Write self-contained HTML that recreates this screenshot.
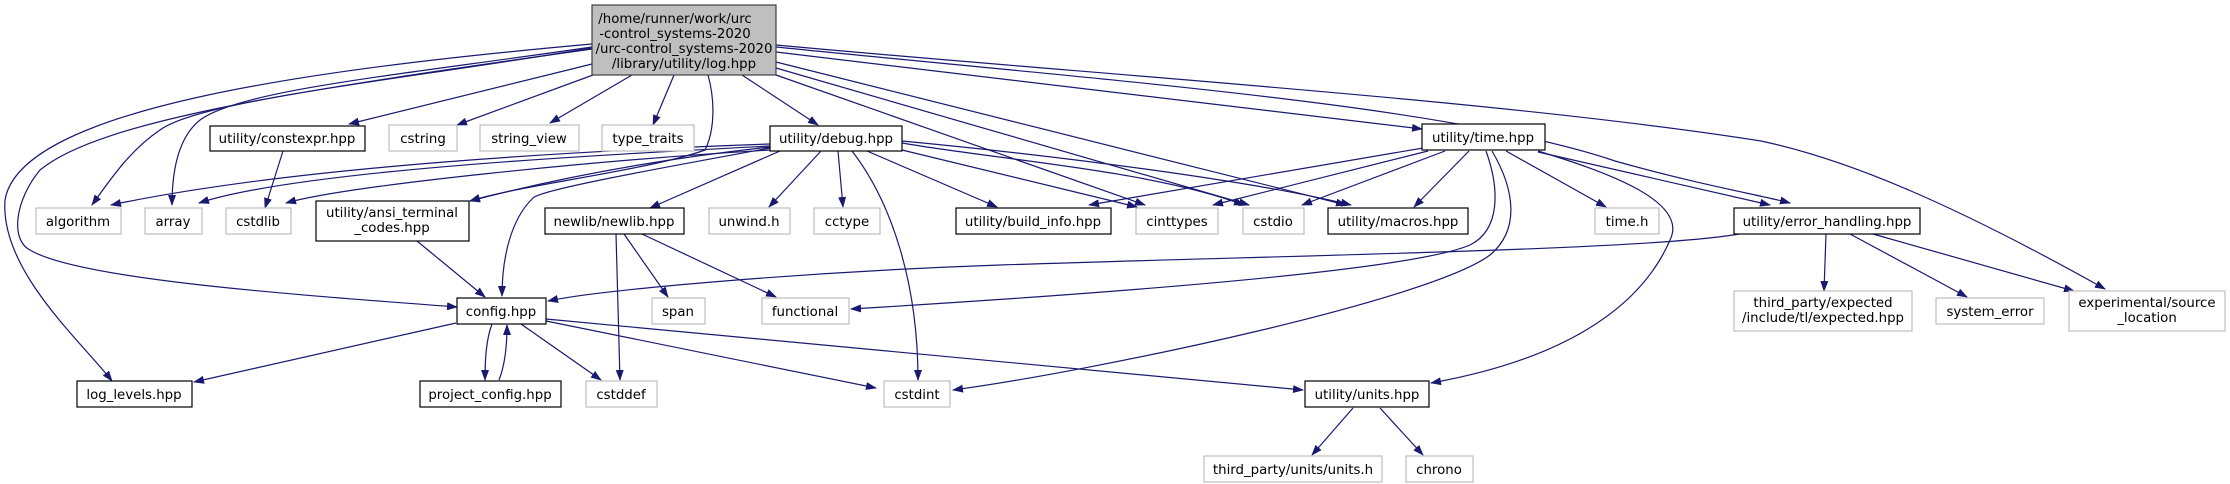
<!DOCTYPE html>
<html><head><meta charset="utf-8"><style>
html,body{margin:0;padding:0;background:#fff;}
svg{display:block;}
text{font-family:"DejaVu Sans","Liberation Sans",sans-serif;font-size:13.33px;fill:#000;text-anchor:middle;}
.e{fill:none;stroke:#191970;stroke-width:1.2;}
.d{fill:#fff;stroke:#000;stroke-width:1.2;}
.x{fill:#fff;stroke:#bfbfbf;stroke-width:1.2;}
</style></head><body>
<svg width="2230" height="484" viewBox="0 0 2230 484" xmlns="http://www.w3.org/2000/svg">
<defs><marker id="a" markerWidth="11" markerHeight="8" refX="10" refY="4" orient="auto" markerUnits="userSpaceOnUse"><path d="M0,0 L11,4 L0,8 z" fill="#191970"/></marker></defs>
<g class="e" marker-end="url(#a)">
<!-- log.hpp edges -->
<path d="M592,44 C300,70 20,110 5,200 C0,270 80,340 112,381"/>
<path d="M592,49 C300,90 100,120 40,170 C15,200 10,240 30,250 C80,280 300,295 457,307"/>
<path d="M592,48 C400,80 200,100 160,130 C130,150 110,180 92,205"/>
<path d="M592,47 C400,75 240,90 200,120 C175,140 172,180 172,205"/>
<path d="M592,64 L349,124"/>
<path d="M593,75 L457,125"/>
<path d="M632,75 L550,123"/>
<path d="M674,75 L653,125"/>
<path d="M708,75 C715,100 715,130 705,150 C650,170 520,185 470,201"/>
<path d="M742,75 L818,125"/>
<path d="M776,75 L1145,205"/>
<path d="M776,68 L1249,205"/>
<path d="M776,62 L1346,205"/>
<path d="M776,52 L1422,129"/>
<path d="M776,47 C1100,80 1450,105 1615,161 C1700,185 1760,195 1790,203"/>
<path d="M776,45 C1100,75 1500,100 1761,141 C1850,160 1955,205 2105,289"/>
<!-- constexpr -->
<path d="M283,151 L265,208"/>
<!-- debug.hpp -->
<path d="M770,144 C600,150 300,165 111,205"/>
<path d="M770,146 C600,155 300,170 199,203"/>
<path d="M770,150 C600,160 350,185 286,203"/>
<path d="M770,147 C650,160 550,180 470,201"/>
<path d="M770,148 C650,170 540,190 533,198 C510,220 502,260 502,296"/>
<path d="M780,151 L650,208"/>
<path d="M821,151 L769,207"/>
<path d="M838,151 L843,207"/>
<path d="M852,151 C890,200 918,280 918,380"/>
<path d="M867,151 L997,207"/>
<path d="M902,150 L1137,207"/>
<path d="M902,143 C1000,160 1150,170 1244,205"/>
<path d="M902,141 C1050,155 1250,180 1351,205"/>
<!-- time.hpp -->
<path d="M1423,148 L1089,205"/>
<path d="M1428,151 L1213,205"/>
<path d="M1445,151 L1302,205"/>
<path d="M1469,151 L1414,207"/>
<path d="M1486,151 C1500,190 1500,230 1470,245 C1400,275 1000,300 851,309"/>
<path d="M1492,151 C1515,190 1520,230 1490,255 C1430,300 1100,370 953,390"/>
<path d="M1538,151 C1600,170 1690,200 1670,240 C1640,310 1560,360 1431,383"/>
<path d="M1506,151 L1606,207"/>
<path d="M1538,152 L1770,205"/>
<!-- error_handling -->
<path d="M1739,234 C1650,250 1300,255 1000,265 C800,272 600,290 548,301"/>
<path d="M1826,234 L1824,291"/>
<path d="M1850,234 L1967,297"/>
<path d="M1873,234 L2074,291"/>
<!-- ansi -->
<path d="M417,241 L485,297"/>
<!-- newlib -->
<path d="M616,234 L620,380"/>
<path d="M624,234 L668,297"/>
<path d="M642,234 L776,297"/>
<!-- config -->
<path d="M456,323 L194,382"/>
<path d="M492,324 C486,340 485,360 485,380"/>
<path d="M499,380 C505,365 507,345 507,325"/>
<path d="M521,324 L601,380"/>
<path d="M546,321 L876,388"/>
<path d="M546,319 L1303,390"/>
<!-- units -->
<path d="M1353,408 L1312,455"/>
<path d="M1380,408 L1423,455"/>
</g>
<!-- nodes -->
<rect x="592" y="5" width="184" height="70" fill="#bfbfbf" stroke="#404040" stroke-width="1.2"/>
<text x="675" y="23">/home/runner/work/urc</text>
<text x="675" y="38">-control_systems-2020</text>
<text x="684" y="53">/urc-control_systems-2020</text>
<text x="684" y="68">/library/utility/log.hpp</text>

<rect class="d" x="210" y="126" width="155" height="25"/><text x="287" y="143">utility/constexpr.hpp</text>
<rect class="x" x="389" y="125" width="68" height="26"/><text x="423" y="143">cstring</text>
<rect class="x" x="480" y="125" width="99" height="26"/><text x="529" y="143">string_view</text>
<rect class="x" x="602" y="125" width="92" height="26"/><text x="648" y="143">type_traits</text>
<rect class="d" x="770" y="126" width="132" height="25"/><text x="836" y="143">utility/debug.hpp</text>
<rect class="d" x="1422" y="124" width="123" height="26"/><text x="1483" y="142">utility/time.hpp</text>

<rect class="x" x="36" y="208" width="85" height="26"/><text x="78" y="226">algorithm</text>
<rect class="x" x="145" y="208" width="57" height="26"/><text x="173" y="226">array</text>
<rect class="x" x="226" y="208" width="65" height="26"/><text x="258" y="226">cstdlib</text>
<rect class="d" x="316" y="201" width="153" height="40"/><text x="392" y="217">utility/ansi_terminal</text><text x="392" y="232">_codes.hpp</text>
<rect class="d" x="545" y="208" width="139" height="26"/><text x="614" y="226">newlib/newlib.hpp</text>
<rect class="x" x="709" y="208" width="81" height="26"/><text x="749" y="226">unwind.h</text>
<rect class="x" x="814" y="208" width="66" height="26"/><text x="847" y="226">cctype</text>
<rect class="d" x="956" y="208" width="155" height="26"/><text x="1033" y="226">utility/build_info.hpp</text>
<rect class="x" x="1136" y="208" width="82" height="26"/><text x="1177" y="226">cinttypes</text>
<rect class="x" x="1243" y="208" width="61" height="26"/><text x="1273" y="226">cstdio</text>
<rect class="d" x="1328" y="208" width="140" height="26"/><text x="1398" y="226">utility/macros.hpp</text>
<rect class="x" x="1595" y="208" width="64" height="26"/><text x="1627" y="226">time.h</text>
<rect class="d" x="1734" y="208" width="186" height="26"/><text x="1827" y="226">utility/error_handling.hpp</text>

<rect class="d" x="457" y="298" width="89" height="26"/><text x="501" y="316">config.hpp</text>
<rect class="x" x="652" y="298" width="53" height="26"/><text x="678" y="316">span</text>
<rect class="x" x="762" y="298" width="87" height="26"/><text x="805" y="316">functional</text>
<rect class="x" x="1734" y="291" width="178" height="40"/><text x="1823" y="307">third_party/expected</text><text x="1823" y="322">/include/tl/expected.hpp</text>
<rect class="x" x="1936" y="298" width="108" height="26"/><text x="1990" y="316">system_error</text>
<rect class="x" x="2069" y="291" width="156" height="40"/><text x="2147" y="307">experimental/source</text><text x="2147" y="322">_location</text>

<rect class="d" x="77" y="381" width="115" height="26"/><text x="134" y="399">log_levels.hpp</text>
<rect class="d" x="420" y="381" width="141" height="26"/><text x="490" y="399">project_config.hpp</text>
<rect class="x" x="586" y="381" width="71" height="26"/><text x="621" y="399">cstddef</text>
<rect class="x" x="884" y="381" width="66" height="26"/><text x="917" y="399">cstdint</text>
<rect class="d" x="1305" y="381" width="124" height="26"/><text x="1367" y="399">utility/units.hpp</text>
<rect class="x" x="1204" y="456" width="178" height="26"/><text x="1293" y="474">third_party/units/units.h</text>
<rect class="x" x="1406" y="456" width="67" height="26"/><text x="1439" y="474">chrono</text>
</svg>
</body></html>
